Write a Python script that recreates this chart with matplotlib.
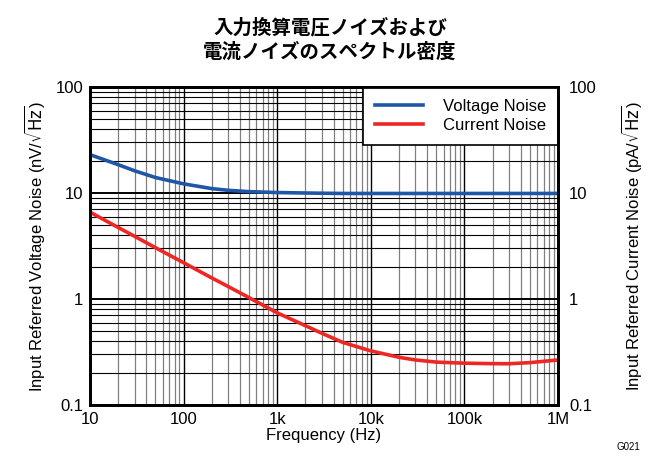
import matplotlib.pyplot as plt
from matplotlib.ticker import LogLocator, NullFormatter, FixedLocator

plt.rcParams['font.family'] = ['Liberation Sans', 'Noto Sans CJK JP', 'DejaVu Sans']

# values
freq = [10, 20, 30, 50, 100, 200, 300, 500, 1e3, 2e3, 3e3, 5e3, 1e4, 2e4, 3e4, 5e4,
        1e5, 2e5, 3e5, 5e5, 1e6]
voltage = [23, 18.5, 16.2, 14.0, 12.2, 11.0, 10.6, 10.3, 10.1, 10.0, 9.95, 9.9, 9.9, 9.9,
           9.9, 9.9, 9.9, 9.9, 9.9, 9.9, 9.9]
current = [6.6, 4.73, 3.9, 3.05, 2.2, 1.58, 1.31, 1.03, 0.74, 0.56, 0.475, 0.39, 0.324,
           0.282, 0.266, 0.254, 0.248, 0.2455, 0.245, 0.251, 0.266]
x_ticks = [10, 100, 1e3, 1e4, 1e5, 1e6]
x_labels = ['10', '100', '1k', '10k', '100k', '1M']
y_ticks = [0.1, 1, 10, 100]
y_labels = ['0.1', '1', '10', '100']

fig = plt.figure(figsize=(6.6, 4.59), dpi=100)
ax = fig.add_axes([90 / 660, 1 - 405 / 459, 468 / 660, 318 / 459])

ax.plot(freq, voltage, color='#1f57a6', lw=2.6, label='Voltage Noise', zorder=3)
ax.plot(freq, current, color='#ee2724', lw=2.6, label='Current Noise', zorder=3)

ax.set_xscale('log')
ax.set_yscale('log')
ax.set_xlim(10, 1e6)
ax.set_ylim(0.1, 100)

ax.xaxis.set_major_locator(FixedLocator(x_ticks))
ax.set_xticklabels(x_labels)
ax.xaxis.set_minor_locator(LogLocator(base=10, subs=range(2, 10), numticks=20))
ax.xaxis.set_minor_formatter(NullFormatter())
ax.yaxis.set_major_locator(FixedLocator(y_ticks))
ax.set_yticklabels(y_labels)
ax.yaxis.set_minor_locator(LogLocator(base=10, subs=range(2, 10), numticks=20))
ax.yaxis.set_minor_formatter(NullFormatter())

ax.grid(which='major', axis='x', color='black', lw=1.0)
ax.grid(which='minor', axis='x', color='#808080', lw=0.9)
ax.grid(which='major', axis='y', color='black', lw=1.4)
ax.grid(which='minor', axis='y', color='black', lw=0.8)
ax.tick_params(which='both', length=0, labelsize=12, pad=5)
for s in ax.spines.values():
    s.set_linewidth(2)

ax.set_xlabel('Frequency (Hz)', fontsize=12, labelpad=1)
ax.set_ylabel(r'Input Referred Voltage Noise (nV/$\sqrt{\mathrm{Hz}}$)', fontsize=12, labelpad=6)

ax2 = ax.twinx()
ax2.set_yscale('log')
ax2.set_ylim(0.1, 100)
ax2.yaxis.set_major_locator(FixedLocator(y_ticks))
ax2.set_yticklabels(y_labels)
ax2.yaxis.set_minor_locator(FixedLocator([]))
ax2.tick_params(which='both', length=0, labelsize=12, pad=8)
ax2.set_ylabel(r'Input Referred Current Noise (pA/$\sqrt{\mathrm{Hz}}$)', fontsize=12, labelpad=16)
for s in ax2.spines.values():
    s.set_linewidth(2)

leg = ax.legend(loc='upper right', fontsize=12, fancybox=False, framealpha=1,
                edgecolor='black', borderaxespad=0.0, handlelength=2.9, borderpad=0.7,
                handletextpad=1.2, labelspacing=0.25)
leg.get_frame().set_linewidth(1.2)
leg.set_zorder(5)

fig.text(0.5, 1 - 18 / 459, '入力換算電圧ノイズおよび\n電流ノイズのスペクトル密度',
         ha='center', va='top', fontsize=14, fontweight='bold', linespacing=1.3,
         family=['Noto Sans CJK JP', 'DejaVu Sans'])
fig.text(640 / 660, 1 - 452 / 459, 'G021', ha='right', va='bottom', fontsize=7)

fig.savefig('out.png', dpi=100)
